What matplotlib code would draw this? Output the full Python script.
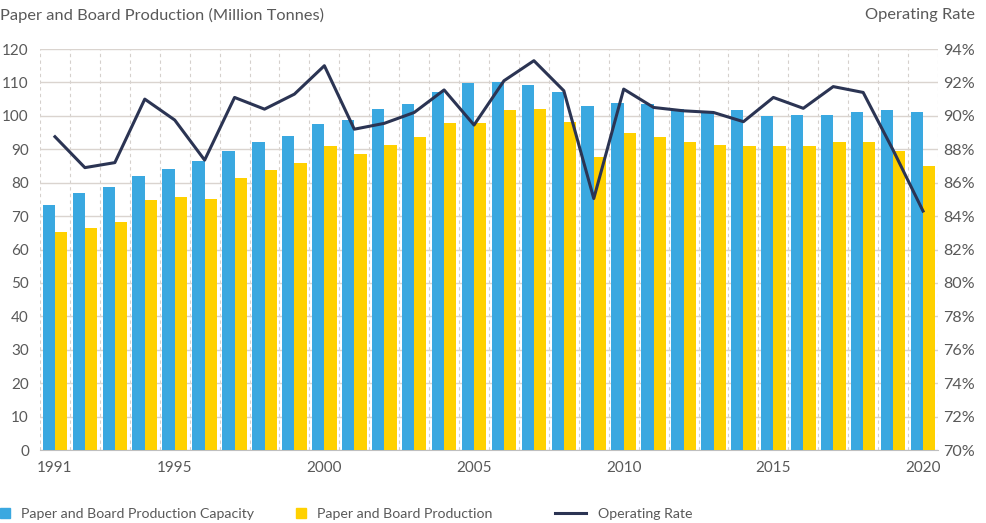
import numpy as np
import matplotlib
matplotlib.use('Agg')
import matplotlib.pyplot as plt
from matplotlib.patches import Patch
from matplotlib.lines import Line2D
from matplotlib.ticker import FuncFormatter

years = list(range(1991, 2021))
capacity = [73.3, 77.0, 78.8, 82.0, 84.2, 86.4, 89.6, 92.3, 94.0, 97.6,
            98.9, 102.0, 103.5, 107.0, 109.7, 110.2, 109.3, 107.1, 102.9, 103.9,
            103.5, 102.0, 101.2, 101.6, 99.9, 100.2, 100.2, 101.2, 101.6, 101.2]
production = [65.2, 66.5, 68.3, 74.7, 75.6, 75.1, 81.5, 83.7, 86.0, 91.0,
              88.6, 91.3, 93.6, 98.0, 98.0, 101.6, 102.0, 98.1, 87.7, 94.9,
              93.6, 92.3, 91.4, 90.9, 90.9, 90.9, 92.3, 92.3, 89.6, 85.0]
op_rate = [88.75, 86.9, 87.2, 91.0, 89.75, 87.35, 91.1, 90.4, 91.3, 93.0,
           89.2, 89.55, 90.2, 91.55, 89.45, 92.1, 93.3, 91.5, 85.05, 91.6,
           90.5, 90.3, 90.2, 89.65, 91.1, 90.45, 91.75, 91.4, 87.95, 84.3]
tick_years = [1991, 1995, 2000, 2005, 2010, 2015, 2020]

blue = '#3AA8E0'
yellow = '#FFD100'
navy = '#2B3453'
grey_txt = '#595959'

plt.rcParams['font.family'] = ['Lato', 'DejaVu Sans']

fig = plt.figure(figsize=(9.86, 5.23), dpi=100)
ax = fig.add_axes([40/986, 73/523, 898/986, 401/523])
ax2 = ax.twinx()

x = np.arange(len(years))
w = 0.41
ax.bar(x - w/2, capacity, w, color=blue, zorder=3)
ax.bar(x + w/2, production, w, color=yellow, zorder=3)
ax2.plot(x, op_rate, color=navy, lw=2.2, zorder=4)

ax.set_xlim(-0.5, len(years) - 0.5)
ax.set_ylim(0, 120)
ax.set_yticks(range(0, 121, 10))
ax2.set_ylim(70, 94)
ax2.set_yticks(range(70, 95, 2))
ax2.yaxis.set_major_formatter(FuncFormatter(lambda v, p: f'{v:.0f}%'))

ax.set_xticks([years.index(y) for y in tick_years])
ax.set_xticklabels([str(y) for y in tick_years])

ax.grid(axis='y', color='#DAD4CF', lw=1, zorder=0)
for b in np.arange(-0.5, len(years), 1.0):
    ax.axvline(b, color='#D5D0CC', lw=0.8, ls=(0, (3, 3)), zorder=0)

for a in (ax, ax2):
    for s in a.spines.values():
        s.set_visible(False)
    a.tick_params(length=0, labelsize=11, colors=grey_txt)
ax.spines['bottom'].set_visible(True)
ax.spines['bottom'].set_color('#BFBFBF')
ax.tick_params(axis='x', pad=8)
ax.tick_params(axis='y', pad=8)
ax2.tick_params(axis='y', pad=4, labelsize=11.6)

fig.text(0.0, 1 - 15/523, 'Paper and Board Production (Million Tonnes)',
         fontsize=11.8, color=grey_txt, va='center', ha='left')
fig.text(975/986, 1 - 15/523, 'Operating Rate',
         fontsize=11.8, color=grey_txt, va='center', ha='right')

items = [
    (Patch(color=blue), 'Paper and Board Production Capacity', 0.0),
    (Patch(color=yellow), 'Paper and Board Production', 296/986),
    (Line2D([], [], color=navy, lw=2.2), 'Operating Rate', 555/986),
]
for h, lab, xp in items:
    kw = dict(handlelength=0.7, handleheight=0.7) if isinstance(h, Patch) else dict(handlelength=2.2)
    fig.legend([h], [lab], loc='center left', bbox_to_anchor=(xp, 1 - 514/523),
               frameon=False, fontsize=10.2, labelcolor=grey_txt,
               borderaxespad=0, borderpad=0, handletextpad=0.8, **kw)

fig.savefig('out.png', dpi=100)
